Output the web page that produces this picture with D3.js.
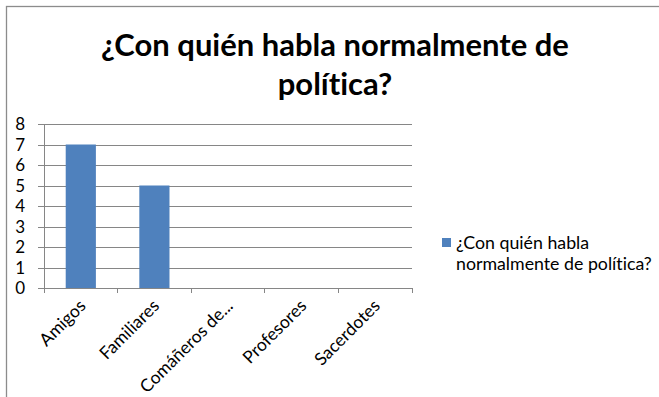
<!DOCTYPE html>
<html>
<head>
<meta charset="utf-8">
<script src="https://cdn.jsdelivr.net/npm/d3@7"></script>
<style>
  html, body { margin: 0; padding: 0; background: #fff; }
  svg { display: block; }
  text { font-family: Lato, "Open Sans", sans-serif; fill: #000; font-variant-ligatures: none; }
</style>
</head>
<body>
<svg id="chart" width="659" height="397"></svg>
<script>
// Chart data
const categories = ["Amigos", "Familiares", "Comáñeros de...", "Profesores", "Sacerdotes"];
const seriesName = "¿Con quién habla normalmente de política?";
const seriesValues = [7, 5, 0, 0, 0];
const yTicks = [0, 1, 2, 3, 4, 5, 6, 7, 8];
const titleLines = ["¿Con quién habla normalmente de", "política?"];
const legendLines = ["¿Con quién habla", "normalmente de política?"];

const W = 659, H = 397;
const svg = d3.select("#chart");
const barColor = "#4F81BD";
const gridColor = "#868686";
const labelSize = 17;

// Outer chart frame
svg.append("rect")
  .attr("x", 6.5).attr("y", 6.5)
  .attr("width", W + 20).attr("height", H + 20)
  .attr("fill", "#fff").attr("stroke", "#8c8c8c").attr("stroke-width", 1.3);

const plot = { left: 44, right: 412, top: 124, bottom: 288 };

const x = d3.scaleBand()
  .domain(categories)
  .range([plot.left, plot.right])
  .paddingInner(0.59).paddingOuter(0.295);

const y = d3.scaleLinear()
  .domain([0, 8])
  .range([plot.bottom, plot.top]);

// Horizontal gridlines with small left ticks
const yAxis = d3.axisLeft(y)
  .tickValues(yTicks)
  .tickSize(-(plot.right - plot.left))
  .tickPadding(0)
  .tickFormat("");
const gy = svg.append("g")
  .attr("transform", `translate(${plot.left},0)`)
  .call(yAxis);
gy.select(".domain").remove();
gy.selectAll(".tick line")
  .attr("x1", -6)
  .attr("stroke", gridColor).attr("stroke-width", 1)
  .attr("shape-rendering", "crispEdges");

// Y tick labels
svg.append("g").selectAll("text")
  .data(yTicks)
  .join("text")
  .attr("x", 25)
  .attr("y", d => y(d) + 6)
  .attr("text-anchor", "end")
  .attr("font-size", labelSize)
  .text(d => d);

// Y axis line
svg.append("line")
  .attr("x1", plot.left).attr("x2", plot.left)
  .attr("y1", plot.top).attr("y2", plot.bottom)
  .attr("stroke", gridColor).attr("shape-rendering", "crispEdges");

// Bars
svg.append("g").selectAll("rect")
  .data(categories.map((c, i) => ({ c, v: seriesValues[i] })))
  .join("rect")
  .attr("x", d => x(d.c))
  .attr("y", d => y(d.v))
  .attr("width", x.bandwidth())
  .attr("height", d => y(0) - y(d.v))
  .attr("fill", barColor);

// X axis with tick marks on category boundaries
const boundaries = d3.range(categories.length + 1).map(i => plot.left + i * (plot.right - plot.left) / categories.length);
svg.append("line")
  .attr("x1", plot.left).attr("x2", plot.right)
  .attr("y1", plot.bottom).attr("y2", plot.bottom)
  .attr("stroke", gridColor).attr("shape-rendering", "crispEdges");
svg.append("g").selectAll("line")
  .data(boundaries)
  .join("line")
  .attr("x1", d => d).attr("x2", d => d)
  .attr("y1", plot.bottom).attr("y2", plot.bottom + 5)
  .attr("stroke", gridColor).attr("shape-rendering", "crispEdges");

// Rotated category labels
svg.append("g").selectAll("text")
  .data(categories)
  .join("text")
  .attr("transform", d => `translate(${x(d) + x.bandwidth() / 2 + 6},${plot.bottom + 19}) rotate(-45)`)
  .attr("text-anchor", "end")
  .attr("font-size", 17.5)
  .text(d => d);

// Title
const title = svg.append("g").selectAll("text")
  .data(titleLines)
  .join("text")
  .attr("x", 335)
  .attr("y", (d, i) => 56 + i * 39)
  .attr("text-anchor", "middle")
  .attr("font-size", 30)
  .attr("font-weight", "bold")
  .text(d => d);
// Fit the first title line to its intended width and reuse that size
const w0 = title.nodes()[0].getComputedTextLength();
title.attr("font-size", 30 * 468 / w0);

// Legend
const lg = svg.append("g");
lg.append("rect")
  .attr("x", 442).attr("y", 238)
  .attr("width", 9).attr("height", 9)
  .attr("fill", barColor);
const legendText = lg.selectAll("text")
  .data(legendLines)
  .join("text")
  .attr("x", 456)
  .attr("y", (d, i) => 249 + i * 21)
  .attr("font-size", labelSize)
  .text(d => d);
const lw = legendText.nodes()[1].getComputedTextLength();
legendText.attr("font-size", labelSize * 196 / lw);
</script>
</body>
</html>
